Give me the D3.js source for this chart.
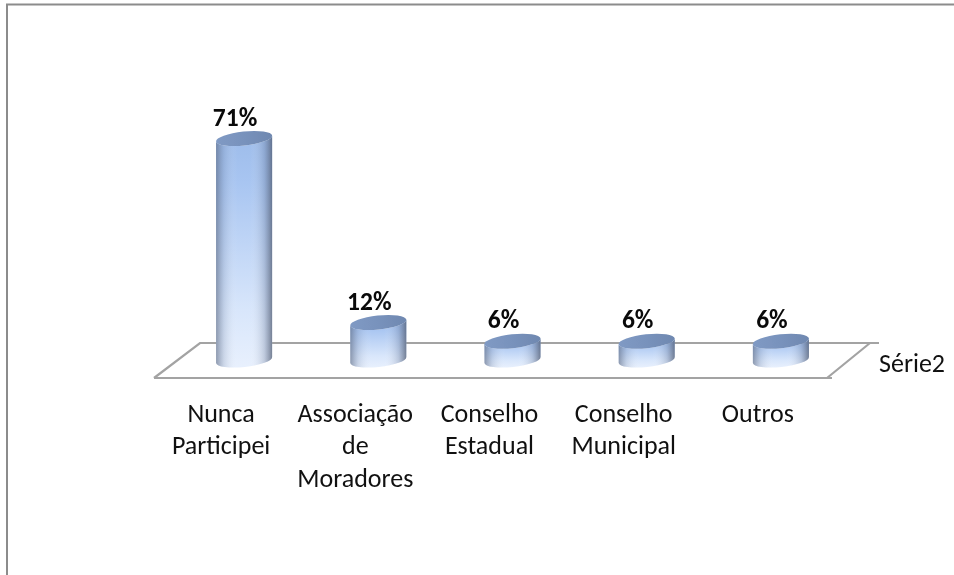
<!DOCTYPE html>
<html><head><meta charset="utf-8">
<script src="https://cdnjs.cloudflare.com/ajax/libs/d3/7.8.5/d3.min.js"></script>
<style>html,body{margin:0;padding:0;background:#fff}svg{display:block}</style>
</head><body><div id="chart"></div>
<script>
const categories = [["Nunca","Participei"],["Associação","de","Moradores"],["Conselho","Estadual"],["Conselho","Municipal"],["Outros"]];
const values = [71,12,6,6,6];
const valueLabels = ["71%","12%","6%","6%","6%"];
const seriesName = "Série2";

const W=954,H=575,FONT="Carlito, Calibri, Lato, sans-serif";
const svg=d3.select("#chart").append("svg").attr("width",W).attr("height",H);
const x=d3.scaleBand().domain(d3.range(values.length)).range([177,848]).paddingInner(0.58).paddingOuter(0.29);
const y=d3.scaleLinear().domain([0,71]).range([360,138.5]);
const defs=svg.append("defs");

const blur=defs.append("filter").attr("id","soft").attr("x","-10%").attr("y","-10%").attr("width","120%").attr("height","120%");
blur.append("feGaussianBlur").attr("stdDeviation",0.5);

const v=defs.append("linearGradient").attr("id","body").attr("x1",0).attr("y1",0).attr("x2",0).attr("y2",1);
[[0,"#9dbcea"],[0.2,"#a8c5f1"],[0.75,"#d8e6fb"],[1,"#e8f0fd"]].forEach(s=>v.append("stop").attr("offset",s[0]).attr("stop-color",s[1]));
const e=defs.append("linearGradient").attr("id","edge").attr("x1",0).attr("y1",0).attr("x2",1).attr("y2",0);
[[0,"#54617a",0.6],[0.14,"#6a7c9c",0.22],[0.38,"#fff",0],[0.6,"#fff",0],[0.86,"#5f6f8e",0.28],[1,"#4b566c",0.72]].forEach(s=>e.append("stop").attr("offset",s[0]).attr("stop-color",s[1]).attr("stop-opacity",s[2]));
const t=defs.append("linearGradient").attr("id","top").attr("x1",0).attr("y1",0).attr("x2",1).attr("y2",0);
[[0,"#809ac4"],[0.5,"#7892bc"],[1,"#6f88b0"]].forEach(s=>t.append("stop").attr("offset",s[0]).attr("stop-color",s[1]));

svg.append("path").attr("d",`M7,${H}V4.5H${W}`).attr("fill","none").attr("stroke","#8c8c8c").attr("stroke-width",2);

svg.append("path").attr("filter","url(#soft)")
  .attr("d","M154,378H832M154,378L200,343H879M827,378L870,343")
  .attr("fill","none").attr("stroke","#a3a3a3").attr("stroke-width",2.2);

const rx=x.bandwidth()/2, ry=7, tiltDeg=-6, tilt=tiltDeg*Math.PI/180;
const dx=rx*Math.cos(tilt), dy=rx*Math.sin(tilt);
const bars=svg.append("g").attr("filter","url(#soft)").selectAll("g").data(values).join("g")
  .attr("transform",(d,i)=>`translate(${x(i)+rx},0)`);
function bodyPath(d){
  const a=y(d), b=y(0);
  return `M${-dx},${a-dy}L${-dx},${b-dy}A${rx},${ry} ${tiltDeg} 0 0 ${dx},${b+dy}L${dx},${a+dy}A${rx},${ry} ${tiltDeg} 0 1 ${-dx},${a-dy}Z`;
}
bars.append("path").attr("d",bodyPath).attr("fill","url(#body)");
bars.append("path").attr("d",bodyPath).attr("fill","url(#edge)");
bars.append("ellipse").attr("rx",rx).attr("ry",ry)
  .attr("transform",d=>`translate(0,${y(d)}) rotate(${tiltDeg})`).attr("fill","url(#top)");

svg.selectAll("text.val").data(values).join("text").attr("class","val")
  .attr("x",(d,i)=>x(i)+rx-9).attr("y",d=>y(d)-13)
  .attr("text-anchor","middle").attr("font-family",FONT).attr("font-weight","bold").attr("font-size",25.5).attr("fill","#0a0a0a")
  .text((d,i)=>valueLabels[i]);

const lab=svg.selectAll("text.cat").data(categories).join("text").attr("class","cat")
  .attr("text-anchor","middle").attr("font-family",FONT).attr("font-size",26).attr("fill","#111");
lab.each(function(lines,i){
  d3.select(this).selectAll("tspan").data(lines).join("tspan")
    .attr("x",x(i)+rx-23).attr("y",(l,j)=>421.5+j*32.5).text(l=>l);
});

svg.append("text").attr("x",879).attr("y",372).attr("font-family",FONT).attr("font-size",26).attr("fill","#111").text(seriesName);
</script></body></html>
